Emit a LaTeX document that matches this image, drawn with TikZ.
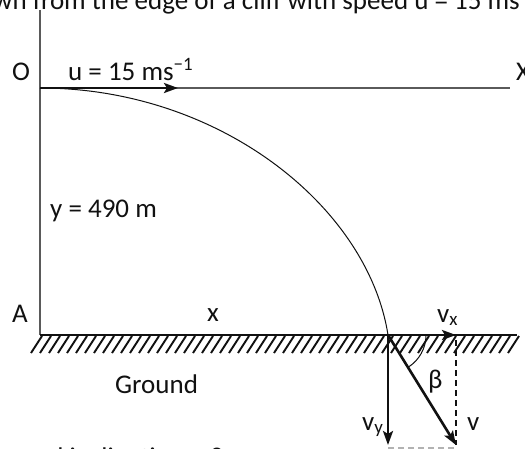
\documentclass[tikz,border=0pt]{standalone}
\usepackage{fontspec}
\setmainfont{Carlito}
\usepackage{tikz}
\usetikzlibrary{arrows.meta,calc}
\definecolor{clInk}{HTML}{111111}
\definecolor{clGray}{HTML}{5A5A5A}
\tikzset{
  fig text/.style={font=\fontsize{27}{32}\selectfont,inner sep=0pt,anchor=base west,text=clInk},
  axis line/.style={draw=clGray,line width=2pt},
  ground line/.style={draw=clInk,line width=2pt},
  path line/.style={draw=clInk,line width=1pt},
  hatch line/.style={draw=clInk,line width=1.9pt},
  vec arrow/.style={-{Stealth[length=14pt,width=10pt,inset=3pt]},line width=2.6pt,draw=clInk},
  guide line/.style={draw=clInk,line width=1.6pt,dash pattern=on 6pt off 4pt}
}

\begin{document}
\begin{tikzpicture}[x=1pt,y=-1pt]
\useasboundingbox (0,0) rectangle (525,448);
\clip (0,0) rectangle (525,448);
\fill[white] (0,0) rectangle (525,448);
% points of the cliff and the path
\coordinate (top) at (40,10);
\coordinate (O) at (40,88);
\coordinate (Xend) at (510,88);
\coordinate (uend) at (178,88);
\coordinate (A) at (40,335);
\coordinate (Gend) at (517,335);
\coordinate (P) at (388,335);
\coordinate (vxend) at (456,335);
\coordinate (vyend) at (388,445);
\coordinate (vend) at (456,445);
\coordinate (vxtop) at (456,340);
\coordinate (vybot) at (388,448);
\coordinate (vbot) at (456,448);
% text
\node[fig text,anchor=base east] (headline) at (520,9) {wn from the edge of a cliff with speed u = 15 ms};
\node[fig text] (Olabel) at (12,80) {O};
\node[fig text] (ulabel) at (68,80) {u = 15 ms\textsuperscript{−1}};
\node[fig text] (Xlabel) at (516,80) {X};
\node[fig text] (ylabel) at (50,217) {y = 490 m};
\node[fig text] (Alabel) at (12,322) {A};
\node[fig text] (xlabel) at (207,321) {x};
\node[fig text] (vxlabel) at (437,322) {v\textsubscript{x}};
\node[fig text] (groundlabel) at (115,393) {Ground};
\node[fig text] (betalabel) at (428,388) {β};
\node[fig text] (vylabel) at (362,430) {v\textsubscript{y}};
\node[fig text] (vlabel) at (467,430) {v};
\node[fig text] (footline) at (22,466) {and inclination = β};
% cliff, axis and ground
\draw[axis line] (top) -- (A);
\draw[axis line] (O) -- (Xend);
\draw[path line] (O) .. controls (220,88) and (368,207) .. (P);
\foreach \hx in {31,40,...,508}
  \draw[hatch line] (\hx,353) -- ++(11,-17);
\draw[ground line] (A) -- (Gend);
% velocities
\draw[vec arrow] (O) -- (uend);
\draw[guide line] (vxtop) -- (vend);
\draw[guide line,draw=gray!60] (vybot) -- (vbot);
\draw[vec arrow] (P) -- (vxend);
\draw[vec arrow] (P) -- (vyend);
\draw[vec arrow] (P) -- (vend);
\draw[path line] ($(P)+(38,0)$) arc[start angle=0,end angle=58,radius=38];
\end{tikzpicture}
\end{document}
